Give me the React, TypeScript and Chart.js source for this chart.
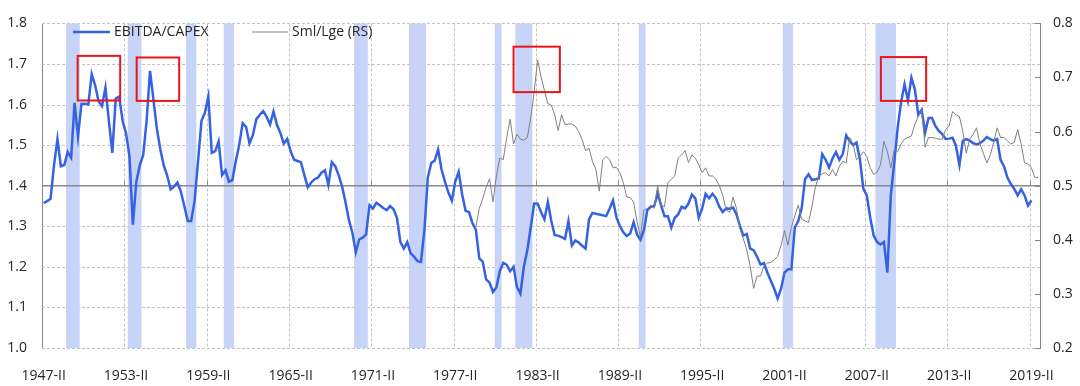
import React, { useEffect, useRef } from "react";
import { Chart, registerables } from "chart.js";

Chart.register(...registerables);

// ---------- data ----------
const firstYear = 1947;
const firstQuarterIndex = 1; // 0 = I, 1 = II ...
const quarterCount = 291; // 1947-II .. 2019-IV
const romans = ["I", "II", "III", "IV"];

const tickLabels = [
  "1947-II", "1953-II", "1959-II", "1965-II", "1971-II", "1977-II", "1983-II",
  "1989-II", "1995-II", "2001-II", "2007-II", "2013-II", "2019-II",
];

// EBITDA/CAPEX, quarterly from 1947-II
const ebitdaCapex = [
  1.357, 1.362, 1.368, 1.450, 1.515, 1.448, 1.451, 1.483, 1.469, 1.604, 1.521, 1.602,
  1.602, 1.600, 1.675, 1.647, 1.608, 1.596, 1.642, 1.560, 1.481, 1.615, 1.620, 1.560,
  1.529, 1.473, 1.304, 1.410, 1.450, 1.475, 1.560, 1.683, 1.612, 1.540, 1.490, 1.450,
  1.425, 1.391, 1.398, 1.408, 1.385, 1.350, 1.313, 1.313, 1.363, 1.460, 1.560, 1.580,
  1.620, 1.481, 1.485, 1.509, 1.426, 1.438, 1.410, 1.414, 1.460, 1.500, 1.554, 1.545,
  1.504, 1.525, 1.564, 1.575, 1.584, 1.570, 1.551, 1.583, 1.550, 1.530, 1.504, 1.515,
  1.485, 1.464, 1.461, 1.458, 1.426, 1.396, 1.408, 1.416, 1.420, 1.432, 1.438, 1.402,
  1.458, 1.448, 1.426, 1.398, 1.359, 1.315, 1.284, 1.236, 1.268, 1.272, 1.280, 1.352,
  1.344, 1.358, 1.352, 1.345, 1.340, 1.350, 1.342, 1.321, 1.261, 1.245, 1.261, 1.233,
  1.225, 1.214, 1.212, 1.290, 1.420, 1.456, 1.462, 1.489, 1.440, 1.410, 1.383, 1.363,
  1.410, 1.434, 1.379, 1.338, 1.335, 1.308, 1.292, 1.221, 1.213, 1.169, 1.161, 1.138,
  1.150, 1.190, 1.210, 1.205, 1.189, 1.200, 1.150, 1.134, 1.200, 1.240, 1.297, 1.356,
  1.356, 1.335, 1.317, 1.360, 1.313, 1.278, 1.277, 1.273, 1.269, 1.313, 1.253, 1.265,
  1.260, 1.252, 1.245, 1.317, 1.333, 1.331, 1.329, 1.327, 1.325, 1.343, 1.364, 1.322,
  1.301, 1.285, 1.276, 1.282, 1.310, 1.280, 1.267, 1.290, 1.340, 1.348, 1.350, 1.381,
  1.352, 1.325, 1.325, 1.297, 1.321, 1.329, 1.348, 1.344, 1.356, 1.378, 1.369, 1.321,
  1.344, 1.380, 1.369, 1.380, 1.369, 1.348, 1.335, 1.344, 1.343, 1.346, 1.329, 1.301,
  1.277, 1.281, 1.245, 1.241, 1.225, 1.206, 1.209, 1.186, 1.166, 1.146, 1.122, 1.146,
  1.186, 1.194, 1.194, 1.297, 1.313, 1.344, 1.416, 1.428, 1.414, 1.416, 1.418, 1.478,
  1.464, 1.445, 1.467, 1.483, 1.464, 1.478, 1.524, 1.510, 1.500, 1.506, 1.464, 1.392,
  1.376, 1.321, 1.277, 1.261, 1.255, 1.261, 1.186, 1.376, 1.456, 1.543, 1.606, 1.650,
  1.610, 1.666, 1.638, 1.575, 1.587, 1.531, 1.567, 1.567, 1.547, 1.535, 1.527, 1.515,
  1.516, 1.518, 1.498, 1.451, 1.511, 1.515, 1.511, 1.505, 1.502, 1.505, 1.511, 1.520,
  1.515, 1.511, 1.515, 1.464, 1.448, 1.420, 1.404, 1.392, 1.376, 1.391, 1.376, 1.351, 1.364,
];

// Sml/Lge (right scale), quarterly from 1978-IV
const smlLgeStart = "1978-IV";
const smlLge = [
  0.423, 0.458, 0.476, 0.497, 0.513, 0.470, 0.518, 0.551, 0.548, 0.589, 0.623, 0.577,
  0.595, 0.586, 0.584, 0.589, 0.625, 0.673, 0.732, 0.702, 0.676, 0.652, 0.649, 0.631,
  0.602, 0.631, 0.613, 0.614, 0.614, 0.610, 0.600, 0.585, 0.565, 0.569, 0.545, 0.530,
  0.490, 0.548, 0.554, 0.548, 0.533, 0.534, 0.524, 0.506, 0.479, 0.478, 0.470, 0.434,
  0.405, 0.455, 0.458, 0.464, 0.458, 0.500, 0.464, 0.461, 0.506, 0.512, 0.518, 0.551,
  0.557, 0.565, 0.543, 0.557, 0.551, 0.539, 0.524, 0.533, 0.518, 0.518, 0.512, 0.500,
  0.482, 0.455, 0.451, 0.479, 0.458, 0.420, 0.402, 0.381, 0.351, 0.310, 0.333, 0.333,
  0.351, 0.357, 0.358, 0.363, 0.369, 0.390, 0.417, 0.390, 0.423, 0.444, 0.464, 0.438,
  0.435, 0.432, 0.461, 0.497, 0.518, 0.522, 0.524, 0.518, 0.530, 0.518, 0.536, 0.545,
  0.542, 0.589, 0.577, 0.548, 0.554, 0.563, 0.554, 0.533, 0.521, 0.525, 0.539, 0.582,
  0.563, 0.533, 0.566, 0.563, 0.577, 0.586, 0.589, 0.592, 0.613, 0.628, 0.640, 0.571,
  0.589, 0.589, 0.588, 0.586, 0.586, 0.604, 0.610, 0.637, 0.631, 0.628, 0.600, 0.560,
  0.586, 0.595, 0.607, 0.577, 0.560, 0.542, 0.557, 0.580, 0.607, 0.589, 0.589, 0.583,
  0.577, 0.580, 0.604, 0.577, 0.542, 0.540, 0.533, 0.515, 0.515,
];

// recession quarters (first, last)
const recessionStarts = ["1949-I", "1953-III", "1957-IV", "1960-III", "1970-I", "1974-I", "1980-II", "1981-IV", "1990-IV", "2001-II", "2008-I"];
const recessionEnds = ["1949-IV", "1954-II", "1958-II", "1961-I", "1970-IV", "1975-I", "1980-III", "1982-IV", "1991-I", "2001-IV", "2009-II"];

// highlighted peaks: category position range and value range, with the axis used
const highlightFrom = [9.9, 27.1, 137.0, 244.1];
const highlightTo = [22.3, 39.5, 150.5, 257.3];
const highlightLow = [1.610, 1.609, 0.673, 1.609];
const highlightHigh = [1.720, 1.716, 0.757, 1.717];
const highlightAxis = ["y", "y", "y2", "y"];

const axisCrossing = 1.4;

// ---------- helpers ----------
const quarters: string[] = [];
for (let i = 0; i < quarterCount; i++) {
  const q = firstQuarterIndex + i;
  quarters.push(`${firstYear + Math.floor(q / 4)}-${romans[q % 4]}`);
}
const smlOffset = quarters.indexOf(smlLgeStart);
const smlLgeSeries: (number | null)[] = quarters.map((_, i) =>
  i >= smlOffset && i - smlOffset < smlLge.length ? smlLge[i - smlOffset] : null
);

const FONT = "'Open Sans', 'Noto Sans', sans-serif";
const TEXT = "#262626";
const BLUE = "#3562e2";
const GREY = "#808080";
const AXIS = "#868686";
const GRID = "#c2c2c2";
const RECESSION = "#c7d4f7";

const decor = {
  id: "decor",
  beforeDatasetsDraw(chart: any) {
    const { ctx, chartArea: a, scales } = chart;
    const x = scales.x, y = scales.y, y2 = scales.y2;
    const step = x.getPixelForValue(1) - x.getPixelForValue(0);
    const line = (x0: number, y0: number, x1: number, y1: number) => {
      ctx.beginPath(); ctx.moveTo(x0, y0); ctx.lineTo(x1, y1); ctx.stroke();
    };
    ctx.save();
    // grid lines
    ctx.strokeStyle = GRID; ctx.lineWidth = 1; ctx.setLineDash([3, 2]);
    y.ticks.forEach((t: any) => {
      if (Math.abs(t.value - axisCrossing) < 1e-6) return;
      const py = Math.round(y.getPixelForValue(t.value)) + 0.5;
      line(a.left, py, a.right, py);
    });
    const tickPx: number[] = [];
    tickLabels.forEach((lbl) => {
      const i = quarters.indexOf(lbl);
      const px = Math.round(x.getPixelForValue(i) - step / 2) + 0.5;
      tickPx.push(px);
      if (i > 0) line(px, a.top, px, a.bottom);
    });
    ctx.setLineDash([]);
    // recession shading
    ctx.fillStyle = RECESSION;
    recessionStarts.forEach((s, k) => {
      const i0 = quarters.indexOf(s), i1 = quarters.indexOf(recessionEnds[k]);
      const p0 = x.getPixelForValue(i0) - step / 2;
      const p1 = x.getPixelForValue(i1) + step / 2;
      ctx.fillRect(p0, a.top, p1 - p0, a.bottom - a.top);
    });
    // horizontal axis line at crossing value
    const cy = y.getPixelForValue(axisCrossing);
    ctx.strokeStyle = "#8a8a8a"; ctx.lineWidth = 1.5;
    line(a.left, cy, a.right, cy);
    ctx.lineWidth = 1;
    tickPx.forEach((px) => line(px, cy - 5, px, cy));
    // right axis inner tick marks
    ctx.strokeStyle = AXIS;
    y2.ticks.forEach((t: any) => {
      const py = Math.round(y2.getPixelForValue(t.value)) + 0.5;
      line(a.right - 5, py, a.right, py);
    });
    ctx.restore();
  },
  afterDatasetsDraw(chart: any) {
    const { ctx, scales } = chart;
    const x = scales.x;
    ctx.save();
    // highlight boxes
    ctx.strokeStyle = "#e8151b"; ctx.lineWidth = 2;
    highlightFrom.forEach((f, k) => {
      const ys = scales[highlightAxis[k]];
      const x0 = x.getPixelForValue(f), x1 = x.getPixelForValue(highlightTo[k]);
      const y0 = ys.getPixelForValue(highlightHigh[k]), y1 = ys.getPixelForValue(highlightLow[k]);
      ctx.strokeRect(x0, y0, x1 - x0, y1 - y0);
    });
    // legend inside plot
    const ds = chart.data.datasets;
    const ly = 32;
    const entries = [
      { x0: 73, x1: 110, tx: 114 },
      { x0: 252, x1: 288, tx: 292 },
    ];
    ctx.font = `14px ${FONT}`;
    ctx.textBaseline = "middle";
    ctx.textAlign = "left";
    entries.forEach((e, k) => {
      ctx.strokeStyle = ds[k].borderColor;
      ctx.lineWidth = ds[k].borderWidth;
      ctx.beginPath(); ctx.moveTo(e.x0, ly); ctx.lineTo(e.x1, ly); ctx.stroke();
      ctx.fillStyle = TEXT;
      ctx.fillText(ds[k].label, e.tx, ly);
    });
    ctx.restore();
  },
};

export default function App() {
  const ref = useRef<HTMLCanvasElement | null>(null);
  useEffect(() => {
    document.body.style.margin = "0";
    const canvas = ref.current!;
    const chart = new Chart(canvas, {
      type: "line",
      data: {
        labels: quarters,
        datasets: [
          {
            label: "EBITDA/CAPEX",
            data: ebitdaCapex,
            yAxisID: "y",
            borderColor: BLUE,
            borderWidth: 2.5,
            pointRadius: 0,
            tension: 0,
            order: 1,
          },
          {
            label: "Sml/Lge (RS)",
            data: smlLgeSeries,
            yAxisID: "y2",
            borderColor: GREY,
            borderWidth: 1,
            pointRadius: 0,
            tension: 0,
            spanGaps: false,
            order: 0,
          },
        ],
      },
      options: {
        responsive: false,
        animation: false,
        devicePixelRatio: 1,
        events: [],
        layout: { padding: { top: 12, left: 0, right: 0, bottom: 0 } },
        plugins: { legend: { display: false }, tooltip: { enabled: false } },
        font: { family: FONT },
        scales: {
          x: {
            type: "category",
            offset: true,
            grid: { display: false, drawTicks: false },
            border: { display: false },
            ticks: {
              autoSkip: false,
              maxRotation: 0,
              minRotation: 0,
              padding: 20,
              color: TEXT,
              font: { family: FONT, size: 14 },
              callback: (_v: any, i: number) => (tickLabels.includes(quarters[i]) ? quarters[i] : null),
            },
            afterFit: (s: any) => { s.height = 38; },
          },
          y: {
            position: "left",
            min: 1.0,
            max: 1.8,
            grid: { display: false, drawTicks: false },
            border: { display: true, color: AXIS, width: 1 },
            ticks: {
              stepSize: 0.1,
              padding: 15,
              color: TEXT,
              font: { family: FONT, size: 14 },
              callback: (v: any) => Number(v).toFixed(1),
            },
            afterFit: (s: any) => { s.width = 42; },
          },
          y2: {
            position: "right",
            min: 0.2,
            max: 0.8,
            grid: { display: false, drawTicks: false },
            border: { display: true, color: AXIS, width: 1 },
            ticks: {
              stepSize: 0.1,
              padding: 13,
              color: TEXT,
              font: { family: FONT, size: 14 },
              callback: (v: any) => Number(v).toFixed(1),
            },
            afterFit: (s: any) => { s.width = 40; },
          },
        },
      } as any,
      plugins: [decor],
    });
    return () => chart.destroy();
  }, []);
  return (
    <div style={{ width: 1080, height: 386, background: "#fff" }}>
      <canvas ref={ref} width={1080} height={386} />
    </div>
  );
}
